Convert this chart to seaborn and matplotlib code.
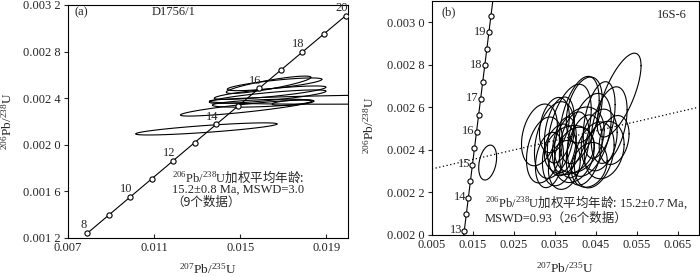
import numpy as np
import pandas as pd
import seaborn as sns
import matplotlib.pyplot as plt

# ----- Concordia points (Ma, 207Pb/235U, 206Pb/238U) ----- #
conc_a_age = [8, 9, 10, 11, 12, 13, 14, 15, 16, 17, 18, 19, 20]
conc_a_x = [0.0079099, 0.0089030, 0.0098972, 0.0108922, 0.0118883, 0.0128853, 0.0138834,
            0.0148824, 0.0158824, 0.0168834, 0.0178854, 0.0188883, 0.0198922]
conc_a_y = [0.0012418, 0.0013971, 0.0015525, 0.0017078, 0.0018632, 0.0020187, 0.0021741,
            0.0023296, 0.0024851, 0.0026406, 0.0027961, 0.0029517, 0.0031073]
conc_a_labels = [8, 10, 12, 14, 16, 18, 20]

conc_b_age = [12.5, 13, 13.5, 14, 14.5, 15, 15.5, 16, 16.5, 17, 17.5, 18, 18.5, 19, 19.5, 20]
conc_b_x = [0.0123867, 0.0128853, 0.0133843, 0.0138834, 0.0143828, 0.0148824, 0.0153823, 0.0158824,
            0.0163828, 0.0168834, 0.0173842, 0.0178854, 0.0183867, 0.0188883, 0.0193902, 0.0198922]
conc_b_y = [0.0019409, 0.0020187, 0.0020964, 0.0021741, 0.0022518, 0.0023296, 0.0024073, 0.0024851,
            0.0025628, 0.0026406, 0.0027184, 0.0027961, 0.0028739, 0.0029517, 0.0030295, 0.0031073]
conc_b_labels = [13, 14, 15, 16, 17, 18, 19]

# ----- Error ellipses: centre, half-axes, correlation ----- #
ell_a_cx = [0.013427, 0.015277, 0.022352, 0.016017, 0.017450, 0.016271, 0.016387, 0.016317, 0.016595]
ell_a_cy = [0.002136, 0.002315, 0.002391, 0.002357, 0.002362, 0.002413, 0.002447, 0.002515, 0.002519]
ell_a_sx = [0.003283, 0.003052, 0.008786, 0.002312, 0.000971, 0.002705, 0.002589, 0.001965, 0.002196]
ell_a_sy = [5.20e-5, 6.86e-5, 4.27e-5, 3.43e-5, 2.48e-5, 5.78e-5, 5.78e-5, 7.44e-5, 5.45e-5]
ell_a_rho = [0.82, 0.869, 0.40, 0.496, 0.515, 0.81, 0.81, 0.857, 0.78]

ell_b_cx = [0.03243, 0.03485, 0.03607, 0.03849, 0.03971, 0.04092, 0.04213, 0.04335, 0.03728,
            0.03364, 0.04456, 0.04577, 0.04699, 0.03971, 0.03607, 0.03121, 0.05063, 0.04820,
            0.04213, 0.03849, 0.04335, 0.03485, 0.04577, 0.04092, 0.03728, 0.04941, 0.01859]
ell_b_cy = [0.002399, 0.002446, 0.002376, 0.002493, 0.002423, 0.002540, 0.002399, 0.002470, 0.002329,
            0.002352, 0.002376, 0.002446, 0.002399, 0.002376, 0.002493, 0.002470, 0.002657, 0.002516,
            0.002587, 0.002399, 0.002329, 0.002516, 0.002540, 0.002446, 0.002423, 0.002446, 0.002340]
ell_b_sx = [0.00437, 0.00485, 0.00413, 0.00534, 0.00364, 0.00485, 0.00437, 0.00534, 0.00388,
            0.00340, 0.00485, 0.00437, 0.00485, 0.00485, 0.00364, 0.00437, 0.00534, 0.00437,
            0.00437, 0.00607, 0.00437, 0.00364, 0.00388, 0.00607, 0.00291, 0.00364, 0.00218]
ell_b_sy = [1.55e-4, 1.80e-4, 1.45e-4, 2.15e-4, 1.55e-4, 2.05e-4, 1.65e-4, 1.95e-4, 1.15e-4,
            1.30e-4, 1.55e-4, 1.45e-4, 1.35e-4, 1.30e-4, 1.55e-4, 1.45e-4, 1.97e-4, 1.80e-4,
            1.55e-4, 1.15e-4, 1.05e-4, 1.30e-4, 1.80e-4, 1.55e-4, 1.30e-4, 1.15e-4, 0.82e-4]
ell_b_rho = [0.30, 0.35, 0.25, 0.45, 0.30, 0.45, 0.30, 0.40, 0.20,
             0.25, 0.30, 0.25, 0.20, 0.25, 0.35, 0.30, 0.70, 0.40,
             0.35, 0.20, 0.20, 0.30, 0.40, 0.30, 0.30, 0.25, 0.30]

# dotted reference line in (b)
line_b_x = [0.005, 0.070]
line_b_y = [0.00231, 0.00260]

ticks_a_x = [0.007, 0.011, 0.015, 0.019]
ticks_a_y = [0.0012, 0.0016, 0.0020, 0.0024, 0.0028, 0.0032]
ticks_b_x = [0.005, 0.015, 0.025, 0.035, 0.045, 0.055, 0.065]
ticks_b_y = [0.0020, 0.0022, 0.0024, 0.0026, 0.0028, 0.0030]


def ellipse_frame(cx, cy, sx, sy, rho):
    t = np.linspace(0, 2 * np.pi, 120)
    rows = []
    for i, (a, b, c, d, r) in enumerate(zip(cx, cy, sx, sy, rho)):
        x = a + c * np.cos(t)
        y = b + d * (r * np.cos(t) + np.sqrt(1 - r ** 2) * np.sin(t))
        rows.append(pd.DataFrame({"x": x, "y": y, "id": i}))
    return pd.concat(rows, ignore_index=True)


def ylab(v):
    s = f"{v:.4f}"
    return s[:5] + " " + s[5:]


sns.set_theme(style="ticks")
plt.rcParams["font.family"] = ["Liberation Serif", "Noto Sans CJK SC"]
plt.rcParams["mathtext.fontset"] = "custom"
plt.rcParams["mathtext.rm"] = "Liberation Serif"
plt.rcParams["mathtext.it"] = "Liberation Serif:italic"
plt.rcParams["mathtext.default"] = "rm"

fig = plt.figure(figsize=(7, 2.77), dpi=100)
ax1 = fig.add_axes([0.097, 0.141, 0.400, 0.841])
ax2 = fig.add_axes([0.617, 0.152, 0.381, 0.845])

FS = 9

# ----- (a) ----- #
sns.lineplot(data=ellipse_frame(ell_a_cx, ell_a_cy, ell_a_sx, ell_a_sy, ell_a_rho),
             x="x", y="y", units="id", estimator=None, sort=False,
             color="black", lw=0.8, ax=ax1)
sns.lineplot(x=conc_a_x, y=conc_a_y, sort=False, color="black", lw=0.8, ax=ax1)
sns.scatterplot(x=conc_a_x, y=conc_a_y, marker="o", s=14, facecolor="white",
                edgecolor="black", linewidth=0.8, ax=ax1, zorder=5)
for age in conc_a_labels:
    i = conc_a_age.index(age)
    ax1.annotate(str(age), (conc_a_x[i], conc_a_y[i]), xytext=(-3, 5.5),
                 textcoords="offset points", ha="center", va="center", fontsize=FS)

ax1.set_xlim(0.007, 0.0200)
ax1.set_ylim(0.0012, 0.0032)
ax1.set_xticks(ticks_a_x)
ax1.set_xticklabels([f"{v:.3f}" for v in ticks_a_x])
ax1.set_yticks(ticks_a_y)
ax1.set_yticklabels([ylab(v) for v in ticks_a_y])

ax1.text(0.025, 0.97, "(a)", transform=ax1.transAxes, ha="left", va="center", fontsize=FS)
ax1.text(0.379, 0.97, "D1756/1", transform=ax1.transAxes, ha="center", va="center", fontsize=FS)
ax1.text(0.371, 0.262, r"$^{206}\mathrm{Pb}/^{238}\mathrm{U}$加权平均年龄:", transform=ax1.transAxes,
         ha="left", va="center", fontsize=FS, family="Noto Sans CJK SC")
ax1.text(0.371, 0.206, "15.2±0.8 Ma, MSWD=3.0", transform=ax1.transAxes,
         ha="left", va="center", fontsize=FS)
ax1.text(0.371, 0.155, "（9个数据）", transform=ax1.transAxes,
         ha="left", va="center", fontsize=FS, family="Noto Sans CJK SC")

# ----- (b) ----- #
sns.lineplot(data=ellipse_frame(ell_b_cx, ell_b_cy, ell_b_sx, ell_b_sy, ell_b_rho),
             x="x", y="y", units="id", estimator=None, sort=False,
             color="black", lw=0.8, ax=ax2)
ax2.plot(line_b_x, line_b_y, color="black", lw=0.9, linestyle=(0, (1, 2)))
sns.lineplot(x=conc_b_x, y=conc_b_y, sort=False, color="black", lw=0.8, ax=ax2)
sns.scatterplot(x=conc_b_x[1:-1], y=conc_b_y[1:-1], marker="o", s=14, facecolor="white",
                edgecolor="black", linewidth=0.8, ax=ax2, zorder=5)
for age in conc_b_labels:
    i = conc_b_age.index(age)
    ax2.annotate(str(age), (conc_b_x[i], conc_b_y[i]), xytext=(-1.5, 0.5),
                 textcoords="offset points", ha="right", va="center", fontsize=FS)

ax2.set_xlim(0.005, 0.070)
ax2.set_ylim(0.0020, 0.0031)
ax2.set_xticks(ticks_b_x)
ax2.set_xticklabels([f"{v:.3f}" for v in ticks_b_x])
ax2.set_yticks(ticks_b_y)
ax2.set_yticklabels([ylab(v) for v in ticks_b_y])

ax2.text(0.037, 0.951, "(b)", transform=ax2.transAxes, ha="left", va="center", fontsize=FS)
ax2.text(0.955, 0.94, "16S-6", transform=ax2.transAxes, ha="right", va="center", fontsize=FS)
ax2.text(0.199, 0.141,
         r"$^{206}\mathrm{Pb}/^{238}\mathrm{U}$加权平均年龄: $\mathrm{15.2{\pm}0.7\ Ma,}$",
         transform=ax2.transAxes, ha="left", va="center", fontsize=FS, family="Noto Sans CJK SC")
ax2.text(0.199, 0.068, "MSWD=0.93（26个数据）", transform=ax2.transAxes,
         ha="left", va="center", fontsize=FS)

for ax, ylc in ((ax1, (-0.19, 0.5)), (ax2, (-0.206, 0.47))):
    ax.set_xlabel(r"$^{207}$Pb/$^{235}$U", fontsize=FS + 0.5)
    ax.set_ylabel(r"$^{206}$Pb/$^{238}$U", fontsize=FS + 0.5)
    ax.yaxis.set_label_coords(*ylc)
    ax.tick_params(axis="x", direction="in", length=3, width=0.8, labelsize=FS, pad=3)
    ax.tick_params(axis="y", direction="out", length=3, width=0.8, labelsize=FS, pad=2)
    for sp in ax.spines.values():
        sp.set_visible(True)
        sp.set_color("black")
        sp.set_linewidth(0.8)
ax1.xaxis.set_label_coords(0.5, -0.103)
ax2.xaxis.set_label_coords(0.5, -0.111)

fig.savefig("out.png", dpi=100)
